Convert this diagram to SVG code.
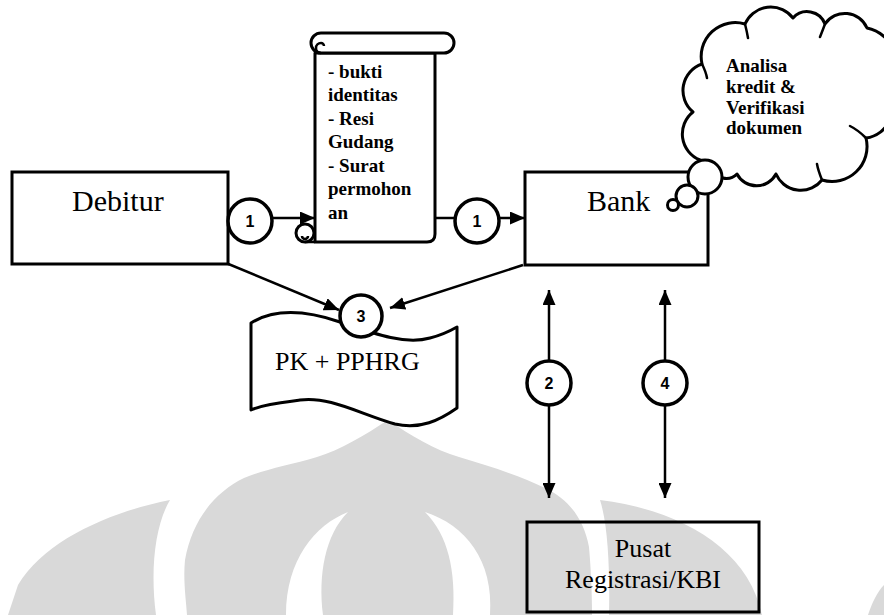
<svg xmlns="http://www.w3.org/2000/svg" width="884" height="615" viewBox="0 0 884 615">
  <style>
    .box { fill: #fff; stroke: #000; stroke-width: 3; }
    .frame { fill: none; stroke: #000; stroke-width: 3; }
    .shape { fill: #fff; stroke: #000; stroke-width: 3; stroke-linejoin: round; }
    .step { fill: #fff; stroke: #000; stroke-width: 3.5; }
    .line { fill: none; stroke: #000; stroke-width: 2.5; }
    .tick { fill: none; stroke: #000; stroke-width: 2.5; stroke-linecap: round; }
    .wm { fill: #d9d9d9; }
    .cut { fill: #fff; }
    .big { font-family: "Liberation Serif", "Times New Roman", serif; font-size: 30px; fill: #000; }
    .note { font-family: "Liberation Serif", "Times New Roman", serif; font-size: 19px; font-weight: bold; fill: #000; }
    .mid { font-family: "Liberation Serif", "Times New Roman", serif; font-size: 26px; fill: #000; }
    .num { font-family: "Liberation Sans", Arial, sans-serif; font-size: 16px; font-weight: bold; fill: #000; text-anchor: middle; }
  </style>
  <defs>
    <marker id="arrow" viewBox="0 0 15 13" refX="15" refY="6.5" markerWidth="15" markerHeight="13" markerUnits="userSpaceOnUse" orient="auto">
      <path d="M0,0 L15,6.5 L0,13 Z" fill="#000"/>
    </marker>
  </defs>

  <rect width="884" height="615" fill="#fff"/>

  <!-- light grey emblem behind the drawing -->
  <g id="watermark">
    <path class="wm" d="M388,420 C365,435 340,450 317,457 C290,465 262,470 244,478 C215,492 192,520 185,560 C183,580 186,600 187,615 L592,615 C592,595 591,570 589,547 C584,520 570,500 545,488 C520,476 490,466 459,457 C435,450 410,435 388,420 Z"/>
    <path class="cut" d="M348,512 C315,525 286,560 286,615 L323,615 C318,575 325,535 348,512 Z"/>
    <path class="cut" d="M425,512 C465,525 494,560 490,615 L453,615 C456,570 448,535 425,512 Z"/>
    <path class="wm" d="M170,500 C110,512 45,540 18,585 L8,615 L156,615 C150,570 155,525 170,500 Z"/>
    <path class="wm" d="M600,500 C680,510 748,548 762,615 L609,615 C610,570 608,525 600,500 Z"/>
    <path class="wm" d="M884,585 L884,615 L868,615 C872,603 877,592 884,585 Z"/>
  </g>

  <!-- arrows between the parties -->
  <g id="connectors">
    <line class="line" x1="273" y1="218" x2="315" y2="218" marker-end="url(#arrow)"/>
    <line class="line" x1="435" y1="218" x2="455" y2="218"/>
    <line class="line" x1="499" y1="218" x2="525" y2="218" marker-end="url(#arrow)"/>
    <line class="line" x1="226" y1="263" x2="339" y2="310" marker-end="url(#arrow)"/>
    <line class="line" x1="523" y1="265" x2="390" y2="308" marker-end="url(#arrow)"/>
    <line class="line" x1="549" y1="361" x2="549" y2="290" marker-end="url(#arrow)"/>
    <line class="line" x1="549" y1="405" x2="549" y2="498" marker-end="url(#arrow)"/>
    <line class="line" x1="665" y1="361" x2="665" y2="290" marker-end="url(#arrow)"/>
    <line class="line" x1="665" y1="405" x2="665" y2="498" marker-end="url(#arrow)"/>
  </g>

  <g id="debitur">
    <rect class="box" x="12" y="172" width="216" height="92"/>
    <text class="big" x="72" y="211">Debitur</text>
  </g>

  <g id="dokumen">
    <path class="shape" d="M315,53 L315,242 L427,242 Q435,242 435,234 L435,53 Z"/>
    <path class="shape" d="M321,33 L444,33 A10,10 0 0 1 444,53 L321,53 A10,10 0 0 1 321,33 Z"/>
    <path class="line" d="M321,53 A5,5 0 0 1 321,43 A3,3 0 0 1 324,46"/>
    <circle class="shape" cx="305" cy="233" r="9"/>
    <path class="line" d="M305,242 L315,242 M302,236 A3,3 0 0 0 308,236"/>
    <text class="note" x="328" y="78">- bukti</text>
    <text class="note" x="328" y="101">identitas</text>
    <text class="note" x="328" y="125">- Resi</text>
    <text class="note" x="328" y="148">Gudang</text>
    <text class="note" x="328" y="172">- Surat</text>
    <text class="note" x="328" y="195">permohon</text>
    <text class="note" x="328" y="219">an</text>
  </g>

  <g id="bank">
    <rect class="box" x="525" y="172" width="183" height="93"/>
    <text class="big" x="587" y="211">Bank</text>
  </g>

  <g id="analisa">
    <path class="shape" d="M700,160 A28,28 0 0 1 693,112 A28,28 0 0 1 702,64 A34,34 0 0 1 745,24 A28,28 0 0 1 793,18 A19,19 0 0 1 825,24 A24,24 0 0 1 867,28 A37,37 0 0 1 886,90 A30,30 0 0 1 866,138 A35,35 0 0 1 822,180 A27,27 0 0 1 776,174 A22,22 0 0 1 737,174 A15,15 0 0 1 712,168 A9,9 0 0 1 700,160 Z"/>
    <path class="tick" d="M702,64 Q706,72 707,78 M745,24 Q747,32 748,38 M825,24 Q822,32 820,37 M866,138 Q858,130 850,126 M822,180 Q818,170 817,164"/>
    <circle class="shape" cx="705" cy="177" r="17"/>
    <circle class="shape" cx="687" cy="196" r="11"/>
    <circle class="shape" cx="673" cy="205" r="5.5"/>
    <text class="note" x="726" y="72">Analisa</text>
    <text class="note" x="726" y="93">kredit &amp;</text>
    <text class="note" x="726" y="114">Verifikasi</text>
    <text class="note" x="726" y="134">dokumen</text>
  </g>

  <g id="perjanjian">
    <path class="shape" d="M251,323 C275,308 305,310 340,322 C375,334 405,345 430,338 C442,335 450,331 457,327 L457,408 C440,420 420,430 395,424 C360,414 330,396 300,400 C278,403 262,405 251,410 Z"/>
    <text class="mid" x="275" y="370">PK + PPHRG</text>
  </g>

  <g id="pusat">
    <rect class="frame" x="527" y="522" width="232" height="90"/>
    <text class="mid" x="643" y="557" text-anchor="middle">Pusat</text>
    <text class="mid" x="643" y="588" text-anchor="middle">Registrasi/KBI</text>
  </g>

  <g id="step-1a">
    <circle class="step" cx="250" cy="221" r="22"/>
    <text class="num" x="250" y="227">1</text>
  </g>
  <g id="step-1b">
    <circle class="step" cx="477" cy="221" r="22"/>
    <text class="num" x="477" y="227">1</text>
  </g>
  <g id="step-3">
    <circle class="step" cx="361" cy="316" r="21"/>
    <text class="num" x="361" y="322">3</text>
  </g>
  <g id="step-2">
    <circle class="step" cx="549" cy="383" r="22"/>
    <text class="num" x="549" y="389">2</text>
  </g>
  <g id="step-4">
    <circle class="step" cx="665" cy="383" r="22"/>
    <text class="num" x="665" y="389">4</text>
  </g>
</svg>
